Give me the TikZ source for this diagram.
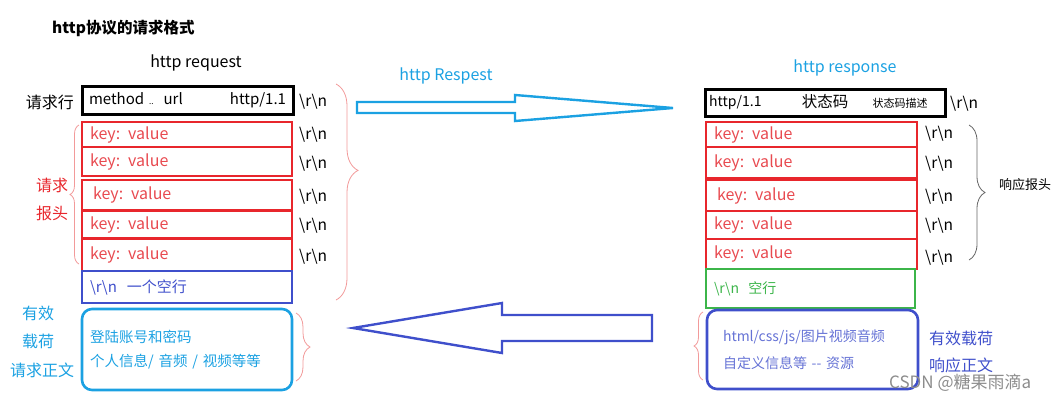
\documentclass[tikz,border=0pt]{standalone}
\usepackage{fontspec}
\setmainfont{Noto Sans CJK SC}
\usepackage{tikz}
\usetikzlibrary{decorations.pathreplacing}
\usepackage{xcolor}

\definecolor{kvred}{HTML}{E8262C}
\definecolor{kvtext}{HTML}{E84A50}
\definecolor{skyblue}{HTML}{1BA1E2}
\definecolor{inkblue}{HTML}{3F4FCB}
\definecolor{blankgreen}{HTML}{3CB54A}
\definecolor{bracepink}{HTML}{F29A9A}

\newcommand{\crlf}{\textbackslash r\textbackslash n}
\newcommand{\fsz}[1]{\fontsize{#1}{#1}\selectfont}

\begin{document}
\begin{tikzpicture}[x=1pt, y=-1pt,
    linebox/.style = {draw=black, line width=3pt, align=left, font=\fsz{15}},
    kvbox/.style = {draw=kvred, line width=2.7pt, minimum width=210pt, text width=194pt, inner xsep=8pt, align=left, text=kvtext, font=\fsz{16}},
    crlf/.style = {anchor=west, font=\fsz{15.5}, inner sep=0pt},
    bodybox/.style = {rounded corners=10pt, line width=2.6pt, minimum width=210pt, minimum height=81pt, align=left, font=\fsz{14.5}},
    lbl/.style = {font=\fsz{16}, inner sep=0pt},
    brc/.style = {decorate, decoration={brace, amplitude=#1}, line width=0.8pt},
    hollow/.style = {line width=2.4pt, line join=miter}
]
\useasboundingbox (0,0) rectangle (1063,400);

% Titles
\node (title) [anchor=west, font=\bfseries\fsz{15.5}, inner sep=0pt] at (52,28) {http协议的请求格式};
\node (reqtitle) [font=\fsz{16}] at (196,63) {http request};
\node (restitle) [font=\fsz{16}, text=skyblue] at (845,68) {http response};

% Left column: request
\node (reqline) [linebox, minimum width=211pt, minimum height=28pt, text width=197pt, inner xsep=7pt] at (187.5,100)
    {method {\fsz{8}..}\ \ url\hfill http/1.1};
\node (reqlbl) [lbl, anchor=east] at (74,102) {请求行};
\node (kv1) [kvbox, minimum height=25pt] at (187,134.5) {key: value};
\node (kv2) [kvbox, minimum height=29pt] at (187,161.5) {key: value};
\node (kv3) [kvbox, minimum height=30pt] at (187,195) {\hspace{3pt}key: value};
\node (kv4) [kvbox, minimum height=27pt] at (187,224.5) {key: value};
\node (kv5) [kvbox, minimum height=32pt] at (187,255) {key: value};
\node (blank) [kvbox, draw=inkblue, text=inkblue, minimum height=32pt, font=\fsz{15}] at (187,287) {\crlf\ \ 一个空行};
\node (reqbody) [bodybox, draw=skyblue, text=skyblue, text width=194pt, inner xsep=8pt] at (187,349.5)
    {登陆账号和密码\\[9pt]个人信息/ 音频 / 视频等等};

\node (c0) [crlf] at (299,102) {\crlf};
\node (c1) [crlf] at (299,135) {\crlf};
\node (c2) [crlf] at (299,164) {\crlf};
\node (c3) [crlf] at (299,197) {\crlf};
\node (c4) [crlf] at (299,226) {\crlf};
\node (c5) [crlf] at (299,257) {\crlf};

\node (hdrlbl1) [lbl, text=kvred] at (52,185) {请求};
\node (hdrlbl2) [lbl, text=kvred] at (52,213) {报头};
\node (pay1) [lbl, text=skyblue] at (38,313) {有效};
\node (pay2) [lbl, text=skyblue] at (38,341) {载荷};
\node (pay3) [lbl, text=skyblue] at (42,370) {请求正文};

% Braces, request side
\draw [brc=9pt, draw=bracepink] (79,264) -- (79,125);
\draw [brc=22pt, draw=bracepink, decoration={aspect=0.4}] (336,84) -- (336,300);
\draw [brc=14pt, draw=bracepink] (296,313) -- (296,381);

% Hollow arrows between the halves
\draw [hollow, draw=skyblue] (357,102) -- (515,102) -- (515,95) -- (673,108) -- (515,121) -- (515,113) -- (357,113) -- cycle;
\node (arrowlbl) [font=\fsz{16}, text=skyblue] at (446,76) {http Respest};
\draw [hollow, draw=inkblue] (652,315) -- (502,315) -- (502,303) -- (353,328) -- (502,353) -- (502,341) -- (652,341) -- cycle;

% Right column: response
\node (resline) [linebox, minimum width=240pt, minimum height=27pt] at (825,102.5) {};
\node (ver) [anchor=west, font=\fsz{14}, inner sep=0pt] at (709,103) {http/1.1};
\node (code) [font=\fsz{15.5}, inner sep=0pt] at (825,102) {状态码};
\node (desc) [font=\fsz{11}, inner sep=0pt] at (900,103) {状态码描述};
\node (rkv1) [kvbox, minimum width=211pt, text width=195pt, minimum height=25pt] at (811.5,134.5) {key: value};
\node (rkv2) [kvbox, minimum width=211pt, text width=195pt, minimum height=31pt] at (811.5,162.5) {key: value};
\node (rkv3) [kvbox, minimum width=211pt, text width=195pt, minimum height=31pt] at (811.5,195.5) {\hspace{3pt}key: value};
\node (rkv4) [kvbox, minimum width=211pt, text width=195pt, minimum height=28pt] at (811.5,225) {key: value};
\node (rkv5) [kvbox, minimum width=211pt, text width=195pt, minimum height=30pt] at (811.5,254) {key: value};
\node (rblank) [kvbox, draw=blankgreen, text=blankgreen, minimum width=209pt, text width=193pt, minimum height=39pt, line width=2.2pt, font=\fsz{14}] at (810.5,288.5) {\crlf\ \ 空行};
\node (resbody) [bodybox, draw=inkblue, text=inkblue!80, minimum height=79pt, minimum width=211pt, text width=179pt, inner xsep=16pt, font=\fsz{14}] at (812.5,349.5)
    {html/css/js/图片视频音频\\[10pt]自定义信息等 -{}- 资源};

\node (rc0) [crlf] at (950,104) {\crlf};
\node (rc1) [crlf] at (925,134) {\crlf};
\node (rc2) [crlf] at (925,164) {\crlf};
\node (rc3) [crlf] at (925,197) {\crlf};
\node (rc4) [crlf] at (925,226) {\crlf};
\node (rc5) [crlf] at (925,258) {\crlf};

\node (reshdr) [lbl, anchor=west, font=\fsz{13}] at (999,185) {响应报头};
\node (respay1) [lbl, anchor=west, text=inkblue] at (929,338) {有效载荷};
\node (respay2) [lbl, anchor=west, text=inkblue] at (929,365) {响应正文};
\node (mark) [anchor=west, font=\fsz{17}, text=black!45, inner sep=0pt] at (889,383) {CSDN @糖果雨滴a};

% Braces, response side
\draw [brc=16pt, draw=black!60] (969,125) -- (969,260);
\draw [brc=9pt, draw=bracepink] (703,380) -- (703,312);

\end{tikzpicture}
\end{document}
